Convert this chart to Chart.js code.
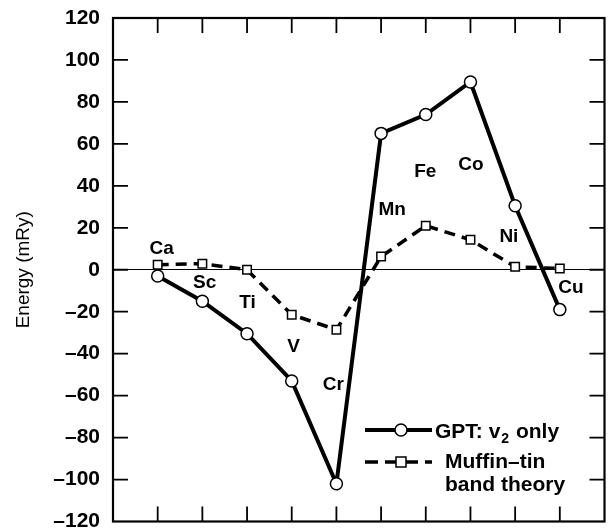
<!DOCTYPE html>
<html>
<head>
<meta charset="utf-8">
<script src="https://cdn.jsdelivr.net/npm/chart.js@4"></script>
<style>
  html, body { margin: 0; padding: 0; background: #fff; }
  #wrap { width: 612px; height: 529px; }
</style>
</head>
<body>
<div id="wrap"><canvas id="c" width="612" height="529"></canvas></div>
<script>
// ---- data ----
const elements = ["Ca", "Sc", "Ti", "V", "Cr", "Mn", "Fe", "Co", "Ni", "Cu"];
const gptV2 = [-3, -15, -30.5, -53, -102, 65, 74, 89.5, 30.5, -19];
const muffinTin = [2.4, 2.9, 0, -21.4, -28.6, 6.3, 21, 14.3, 1.4, 0.6];
const yTicks = [-120, -100, -80, -60, -40, -20, 0, 20, 40, 60, 80, 100, 120];
const seriesNames = ["GPT: v", "Muffin\u2013tin", "band theory"];
// label anchor positions (data units) for element names
const labelX = [1.09, 2.05, 3.01, 4.04, 4.93, 6.25, 6.99, 8.01, 8.86, 10.25];
const labelY = [10, -6.2, -15.7, -36.7, -54.8, 28.6, 46.7, 50, 15.7, -8.6];

const FONT = '"Liberation Sans", Arial, sans-serif';
const toPts = arr => arr.map((v, i) => ({ x: i + 1, y: v }));

const frame = {
  id: 'frame',
  afterDatasetsDraw(chart) {
    const { ctx, chartArea: a, scales: { x, y } } = chart;
    ctx.save();
    ctx.strokeStyle = '#000';
    ctx.lineWidth = 2.2;
    ctx.strokeRect(a.left, a.top, a.right - a.left, a.bottom - a.top);
    ctx.lineWidth = 1.8;
    const L = 15;
    ctx.beginPath();
    yTicks.slice(1, -1).forEach(v => {
      const py = y.getPixelForValue(v);
      ctx.moveTo(a.left, py); ctx.lineTo(a.left + L, py);
      ctx.moveTo(a.right, py); ctx.lineTo(a.right - L, py);
    });
    elements.forEach((e, i) => {
      const px = x.getPixelForValue(i + 1);
      ctx.moveTo(px, a.top); ctx.lineTo(px, a.top + L);
      ctx.moveTo(px, a.bottom); ctx.lineTo(px, a.bottom - L);
    });
    ctx.stroke();

    // element labels
    ctx.fillStyle = '#000';
    ctx.font = 'bold 19px ' + FONT;
    ctx.textAlign = 'center';
    ctx.textBaseline = 'middle';
    elements.forEach((e, i) => {
      ctx.fillText(e, x.getPixelForValue(labelX[i]), y.getPixelForValue(labelY[i]));
    });

    // legend
    const lx0 = 365, lx1 = 432, cx = 401;
    const ly1 = 430, ly2 = 462;
    ctx.strokeStyle = '#000';
    ctx.lineWidth = 4;
    ctx.setLineDash([]);
    ctx.beginPath(); ctx.moveTo(lx0, ly1); ctx.lineTo(lx1, ly1); ctx.stroke();
    ctx.lineWidth = 1.5;
    ctx.beginPath(); ctx.arc(cx, ly1, 6, 0, Math.PI * 2);
    ctx.fillStyle = '#fff'; ctx.fill(); ctx.stroke();
    ctx.lineWidth = 3.5;
    ctx.setLineDash([13, 7]);
    ctx.beginPath(); ctx.moveTo(lx0, ly2); ctx.lineTo(lx1, ly2); ctx.stroke();
    ctx.setLineDash([]);
    ctx.lineWidth = 1.5;
    ctx.fillStyle = '#fff';
    ctx.fillRect(cx - 5, ly2 - 5, 10, 10);
    ctx.strokeRect(cx - 5, ly2 - 5, 10, 10);

    ctx.fillStyle = '#000';
    ctx.textAlign = 'left';
    ctx.font = 'bold 21px ' + FONT;
    const tx = 435;
    ctx.fillText(seriesNames[0], tx, ly1 + 2);
    const w = ctx.measureText(seriesNames[0]).width;
    ctx.font = 'bold 14px ' + FONT;
    ctx.fillText('2', tx + w + 1, ly1 + 9);
    const w2 = ctx.measureText('2').width;
    ctx.font = 'bold 21px ' + FONT;
    ctx.fillText(' only', tx + w + w2 + 2, ly1 + 2);
    ctx.fillText(seriesNames[1], 445, ly2);
    ctx.fillText(seriesNames[2], 445, ly2 + 23);
    ctx.restore();
  }
};

new Chart(document.getElementById('c'), {
  type: 'scatter',
  data: {
    datasets: [
      {
        label: 'GPT: v2 only',
        data: toPts(gptV2),
        showLine: true,
        borderColor: '#000',
        borderWidth: 4,
        pointRadius: 6,
        pointBorderWidth: 1.5,
        pointBackgroundColor: '#fff',
        pointBorderColor: '#000',
        pointStyle: 'circle',
        order: 1
      },
      {
        label: 'Muffin-tin band theory',
        data: toPts(muffinTin),
        showLine: true,
        borderColor: '#000',
        borderWidth: 3.5,
        borderDash: [11, 7],
        pointRadius: 6,
        pointBorderWidth: 1.5,
        pointBackgroundColor: '#fff',
        pointBorderColor: '#000',
        pointStyle: 'rect',
        order: 2
      }
    ]
  },
  options: {
    responsive: false,
    animation: false,
    layout: { padding: { top: 18, right: 6, bottom: 6, left: 12 } },
    plugins: { legend: { display: false }, tooltip: { enabled: false } },
    scales: {
      x: {
        type: 'linear', min: 0, max: 11, display: false
      },
      y: {
        type: 'linear', min: -120, max: 120,
        afterFit(s) { s.width = 101; s.paddingTop = 0; s.paddingBottom = 0; },
        afterBuildTicks(s) { s.ticks = yTicks.map(v => ({ value: v })); },
        border: { display: false },
        grid: {
          drawTicks: false,
          color: c => (c.tick && c.tick.value === 0) ? '#000' : 'rgba(0,0,0,0)',
          lineWidth: 1
        },
        ticks: {
          color: '#000',
          padding: 13,
          font: { family: FONT, weight: 'bold', size: 21 },
          callback: v => (v < 0 ? '\u2013' + Math.abs(v) : String(v))
        },
        title: {
          display: true,
          text: 'Energy (mRy)',
          color: '#000',
          font: { family: FONT, size: 19 },
          padding: 0
        }
      }
    }
  },
  plugins: [frame]
});
</script>
</body>
</html>
